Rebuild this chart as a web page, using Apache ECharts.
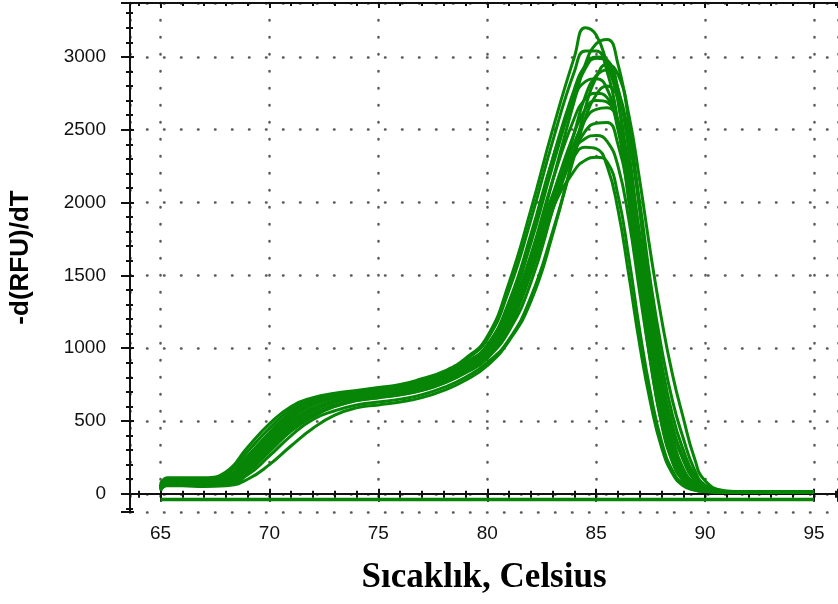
<!DOCTYPE html>
<html>
<head>
<meta charset="utf-8">
<title>Melt curve</title>
<script src="https://cdn.jsdelivr.net/npm/echarts@6/dist/echarts.min.js"></script>
<style>
html,body{margin:0;padding:0;background:#fff;}
#chart{width:838px;height:604px;}
</style>
</head>
<body>
<div id="chart"></div>
<script>
// temperature steps (Celsius) shared by all wells
var temps=[65,65.3,66,67,68,69,70,71,72,73,74,75,76,77,78,79,80,81,82,83,84,84.5,85,85.5,86,86.5,87,87.5,88,88.5,89,89.5,90,91,92,95];

// -d(RFU)/dT, one array per well
var well01=[40,110,110,110,150,320,480,600,660,690,710,730,750,790,840,930,1080,1450,1950,2500,3000,3200,3150,2950,2700,2100,1450,900,480,220,90,35,18,10,10,10];
var well02=[60,100,95,95,120,260,420,560,640,680,700,720,740,770,820,900,980,1200,1600,2150,2700,2950,3090,3120,2950,2550,1950,1300,800,450,230,95,38,12,10,10];
var well03=[30,80,85,85,100,220,380,520,610,660,690,710,730,760,810,890,1010,1280,1720,2250,2740,2920,2990,2970,2700,2200,1600,1050,620,330,150,60,25,12,10,10];
var well04=[50,90,80,75,85,180,330,470,570,630,670,690,710,740,790,860,940,1120,1450,1950,2480,2730,2870,2910,2780,2450,1950,1380,900,540,300,130,48,14,10,10];
var well05=[20,60,60,55,60,130,260,400,510,570,610,630,650,680,730,800,900,1060,1350,1800,2320,2580,2740,2800,2720,2450,2000,1450,1000,640,380,170,60,16,12,12];
var well06=[40,70,70,65,75,170,310,450,550,610,650,670,690,720,770,850,950,1180,1580,2050,2480,2640,2700,2690,2500,2100,1550,1020,600,310,140,55,22,12,10,10];
var well07=[30,70,65,60,70,150,290,430,530,600,640,660,680,710,760,830,930,1140,1510,1950,2350,2490,2545,2550,2400,2050,1560,1070,650,350,160,65,28,12,10,10];
var well08=[50,95,90,90,110,240,400,540,620,660,680,700,720,750,800,880,1000,1250,1630,2050,2320,2380,2370,2250,1950,1500,1020,620,320,140,55,25,15,10,10,10];
var well09=[40,85,80,80,95,210,360,500,590,640,670,690,710,740,790,870,980,1200,1560,1960,2220,2290,2310,2280,2050,1620,1120,690,360,160,65,28,15,10,10,10];
var well10=[70,105,100,100,135,290,450,580,650,685,705,725,745,780,830,920,1060,1400,1880,2420,2900,3040,3040,2900,2550,2000,1450,920,500,240,100,40,20,10,10,10];
var well11=[25,55,55,50,55,100,200,330,450,540,590,610,630,660,710,780,880,1050,1320,1780,2350,2650,2860,2950,2880,2600,2150,1650,1200,820,520,250,90,20,14,14];
var well12=[35,75,70,70,80,160,300,440,540,600,640,660,680,710,760,840,940,1150,1530,2000,2410,2570,2640,2650,2560,2250,1780,1250,800,470,250,110,45,14,10,10];
var well13=[45,95,90,85,105,230,390,530,615,660,685,705,725,760,810,890,1020,1320,1780,2300,2720,2830,2850,2780,2520,2050,1500,980,560,270,115,45,20,10,10,10];
var well14=[35,80,75,70,85,190,340,480,575,630,660,680,700,730,780,860,960,1180,1560,2000,2360,2440,2460,2420,2250,1880,1380,900,490,220,90,38,17,10,10,10];
var well15=[55,100,90,90,115,250,410,550,630,675,700,720,740,770,820,900,1020,1300,1750,2300,2780,2940,3000,2980,2780,2350,1750,1180,720,380,170,70,30,12,10,10];
var well16=[45,85,80,75,90,200,350,490,585,640,670,690,710,740,790,870,980,1230,1640,2150,2580,2710,2750,2720,2560,2200,1680,1150,700,380,170,70,28,12,10,10];
var wells=[well01,well02,well03,well04,well05,well06,well07,well08,well09,well10,well11,well12,well13,well14,well15,well16];

// flat blank well under zero
var blankTemps=[65,95];
var blankValues=[-40,-40];

var xRange=[63.6,96.1];
var yRange=[-125,3370];

var green='#078507';
var ink='#111';

function pairs(xs,ys){
    var out=[];
    for(var i=0;i<xs.length;i++){
        out.push([xs[i],ys[i]]);
    }
    return out;
}

function dotted(){
    return {show:true,lineStyle:{color:'#5a5a5a',width:2.5,type:[0.5,16.5],cap:'round'}};
}

function plain(v){
    return String(v);
}

var series=wells.map(function (w) {
    return {
        type:'line',
        data:pairs(temps,w),
        showSymbol:false,
        smooth:0.5,
        lineStyle:{color:green,width:3},
        silent:true
    };
});
series.push({
    type:'line',
    data:pairs(blankTemps,blankValues),
    showSymbol:false,
    lineStyle:{color:green,width:3.5},
    silent:true
});

var labelFont={color:ink,fontSize:19,fontFamily:'Liberation Sans',formatter:plain};

var option={
    animation:false,
    backgroundColor:'#fff',
    grid:{left:130,right:0,top:3,bottom:92,containLabel:false},
    xAxis:[{
        type:'value',
        min:xRange[0],
        max:xRange[1],
        splitNumber:6,
        name:'Sıcaklık, Celsius',
        nameLocation:'middle',
        nameGap:48,
        nameTextStyle:{color:'#000',fontSize:35,fontWeight:'bold',fontFamily:'Liberation Serif'},
        axisLine:{show:true,lineStyle:{color:ink,width:2}},
        axisTick:{show:true,length:8,lineStyle:{color:ink,width:2}},
        minorTick:{show:true,splitNumber:5,length:4,lineStyle:{color:ink,width:2}},
        axisLabel:Object.assign({margin:12,showMinLabel:false,showMaxLabel:false},labelFont),
        splitLine:dotted()
    },{
        type:'value',
        position:'top',
        min:xRange[0],
        max:xRange[1],
        splitNumber:6,
        axisLine:{show:true,onZero:false,lineStyle:{color:ink,width:2}},
        axisTick:{show:true,inside:true,length:5,lineStyle:{color:ink,width:2}},
        minorTick:{show:true,splitNumber:5,length:3,lineStyle:{color:ink,width:2}},
        axisLabel:{show:false},
        splitLine:{show:false}
    },{
        // inner half of the crossing ticks on the bottom axis
        type:'value',
        position:'bottom',
        min:xRange[0],
        max:xRange[1],
        splitNumber:6,
        axisLine:{show:false},
        axisTick:{show:true,inside:true,length:5,lineStyle:{color:ink,width:2}},
        minorTick:{show:true,splitNumber:5,length:3,lineStyle:{color:ink,width:2}},
        axisLabel:{show:false},
        splitLine:{show:false}
    }],
    yAxis:[{
        type:'value',
        min:yRange[0],
        max:yRange[1],
        splitNumber:6,
        name:'-d(RFU)/dT',
        nameLocation:'middle',
        nameGap:96,
        nameTextStyle:{color:'#000',fontSize:26,fontWeight:'bold',fontFamily:'Liberation Sans'},
        axisLine:{show:true,onZero:false,lineStyle:{color:ink,width:2}},
        axisTick:{show:true,length:9,lineStyle:{color:ink,width:2}},
        minorTick:{show:true,splitNumber:5,length:4,lineStyle:{color:ink,width:2}},
        axisLabel:Object.assign({margin:24,showMinLabel:false,showMaxLabel:false},labelFont),
        splitLine:dotted()
    },{
        type:'value',
        position:'left',
        min:yRange[0],
        max:yRange[1],
        splitNumber:6,
        axisLine:{show:false},
        axisTick:{show:true,inside:true,length:4,lineStyle:{color:ink,width:2}},
        minorTick:{show:true,splitNumber:5,length:3,lineStyle:{color:ink,width:2}},
        axisLabel:{show:false},
        splitLine:{show:false}
    }],
    series:series
};

var chart=echarts.init(document.getElementById('chart'),null,{renderer:'canvas'});
chart.setOption(option);
</script>
</body>
</html>
